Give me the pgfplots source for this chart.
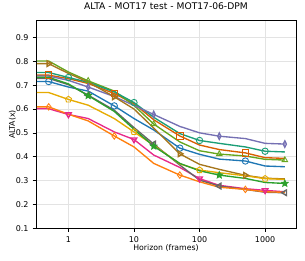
\documentclass[border=0pt]{standalone}
\usepackage{fontspec}
\setmainfont{DejaVu Sans}
\usepackage{pgfplots}
\pgfplotsset{compat=1.18}
\usetikzlibrary{plotmarks}
\definecolor{cA}{HTML}{1F77B4}
\definecolor{cB}{HTML}{D95F02}
\definecolor{cC}{HTML}{66A61E}
\definecolor{cD}{HTML}{1B9E77}
\definecolor{cE}{HTML}{7570B3}
\definecolor{cF}{HTML}{A6761D}
\definecolor{cG}{HTML}{E7298A}
\definecolor{cH}{HTML}{666666}
\definecolor{cI}{HTML}{E6AB02}
\definecolor{cJ}{HTML}{FF7F0E}
\definecolor{cK}{HTML}{2CA02C}
\pgfdeclareplotmark{fstar}{%
  \pgfpathmoveto{\pgfpointpolar{90}{\pgfplotmarksize}}%
  \pgfpathlineto{\pgfpointpolar{126}{0.45\pgfplotmarksize}}%
  \pgfpathlineto{\pgfpointpolar{162}{\pgfplotmarksize}}%
  \pgfpathlineto{\pgfpointpolar{198}{0.45\pgfplotmarksize}}%
  \pgfpathlineto{\pgfpointpolar{234}{\pgfplotmarksize}}%
  \pgfpathlineto{\pgfpointpolar{270}{0.45\pgfplotmarksize}}%
  \pgfpathlineto{\pgfpointpolar{306}{\pgfplotmarksize}}%
  \pgfpathlineto{\pgfpointpolar{342}{0.45\pgfplotmarksize}}%
  \pgfpathlineto{\pgfpointpolar{18}{\pgfplotmarksize}}%
  \pgfpathlineto{\pgfpointpolar{54}{0.45\pgfplotmarksize}}%
  \pgfpathclose\pgfusepathqfillstroke}
\begin{document}
\begin{tikzpicture}
\useasboundingbox (-36bp,-32.7bp) rectangle (269bp,228.3bp);
\begin{axis}[
  at={(0,0)}, anchor=south west,
  scale only axis, width=260bp, height=207.6bp,
  xmode=log, log basis x=10,
  xmin=0.32, xmax=2960, ymin=0.1, ymax=0.97,
  xtick={1,10,100,1000}, xticklabels={1,10,100,1000},
  ytick={0.1,0.2,0.3,0.4,0.5,0.6,0.7,0.8,0.9},
  yticklabels={0.1,0.2,0.3,0.4,0.5,0.6,0.7,0.8,0.9},
  tick align=outside, xtick pos=bottom, ytick pos=left,
  major tick length=3.5bp, minor tick length=2bp,
  tick style={black, line width=0.6bp},
  grid=major, major grid style={color=black!11, line width=0.8bp},
  axis line style={black, line width=0.8bp},
  tick label style={font=\fontsize{8}{9}\selectfont},
  xticklabel style={yshift=-1bp},
  yticklabel style={xshift=-0.5bp},
  title={ALTA - MOT17 test - MOT17-06-DPM},
  title style={font=\fontsize{9.2}{11}\selectfont, at={(0.5,1)}, anchor=base, yshift=5.4bp},
  xlabel={Horizon (frames)},
  xlabel style={font=\fontsize{7.8}{9}\selectfont, at={(0.5,0)}, anchor=base, yshift=-22.5bp},
  ylabel={ALTA(x)},
  ylabel style={font=\fontsize{7.8}{9}\selectfont, at={(0,0.5)}, anchor=base, rotate=0, xshift=0bp, yshift=21bp},
  every axis plot/.append style={line width=1.35bp, mark size=3.2bp, mark options={solid, line width=0.9bp}},
]
% blue circle
\addplot[cA, mark=o, mark indices={2,5,8,11}] coordinates {
(0.33,0.715)(0.5,0.715)(1,0.692)(2,0.675)(5,0.613)(10,0.56)(20,0.512)(50,0.436)(100,0.41)(200,0.39)(500,0.382)(1000,0.361)(2000,0.358)};
% orange square
\addplot[cB, mark=square, mark indices={2,5,8,11}] coordinates {
(0.33,0.742)(0.5,0.742)(1,0.727)(2,0.707)(5,0.665)(10,0.622)(20,0.555)(50,0.487)(100,0.449)(200,0.43)(500,0.416)(1000,0.396)(2000,0.393)};
% green triangle
\addplot[cC, mark=triangle, mark indices={4,7,10,13}] coordinates {
(0.33,0.801)(0.5,0.801)(1,0.755)(2,0.718)(5,0.675)(10,0.615)(20,0.537)(50,0.462)(100,0.425)(200,0.411)(500,0.403)(1000,0.389)(2000,0.386)};
% teal circle
\addplot[cD, mark=o, mark indices={3,6,9,12}] coordinates {
(0.33,0.753)(0.5,0.753)(1,0.732)(2,0.712)(5,0.672)(10,0.627)(20,0.565)(50,0.497)(100,0.468)(200,0.456)(500,0.441)(1000,0.423)(2000,0.42)};
% purple thin diamond
\addplot[cE, mark=diamond, mark options={xscale=0.65}, mark indices={4,7,10,13}] coordinates {
(0.33,0.738)(0.5,0.738)(1,0.72)(2,0.692)(5,0.652)(10,0.615)(20,0.577)(50,0.527)(100,0.50)(200,0.486)(500,0.476)(1000,0.456)(2000,0.453)};
% brown triangle right
\addplot[cF, mark=triangle, mark options={rotate=-90}, mark indices={2,5,8,11}] coordinates {
(0.33,0.790)(0.5,0.790)(1,0.749)(2,0.713)(5,0.651)(10,0.60)(20,0.52)(50,0.412)(100,0.368)(200,0.347)(500,0.322)(1000,0.31)(2000,0.307)};
% pink triangle down
\addplot[cG, mark=triangle, mark options={rotate=180}, mark indices={3,6,9,12}] coordinates {
(0.33,0.601)(0.5,0.601)(1,0.577)(2,0.56)(5,0.504)(10,0.472)(20,0.407)(50,0.355)(100,0.308)(200,0.28)(500,0.266)(1000,0.259)(2000,0.253)};
% gray triangle left
\addplot[cH, mark=triangle, mark options={rotate=90}, mark indices={4,7,10,13}] coordinates {
(0.33,0.728)(0.5,0.728)(1,0.702)(2,0.658)(5,0.595)(10,0.522)(20,0.453)(50,0.365)(100,0.302)(200,0.277)(500,0.263)(1000,0.251)(2000,0.249)};
% yellow pentagon
\addplot[cI, mark=pentagon, mark indices={3,6,9,12}] coordinates {
(0.33,0.669)(0.5,0.669)(1,0.640)(2,0.616)(5,0.56)(10,0.504)(20,0.448)(50,0.37)(100,0.344)(200,0.333)(500,0.32)(1000,0.308)(2000,0.305)};
% orange diamond
\addplot[cJ, mark=diamond, mark indices={2,5,8,11}] coordinates {
(0.33,0.609)(0.5,0.609)(1,0.578)(2,0.55)(5,0.487)(10,0.441)(20,0.372)(50,0.323)(100,0.295)(200,0.272)(500,0.263)(1000,0.253)(2000,0.251)};
% green star
\addplot[cK, mark=fstar, mark size=3.4bp, mark indices={4,7,10,13}] coordinates {
(0.33,0.733)(0.5,0.733)(1,0.705)(2,0.656)(5,0.59)(10,0.515)(20,0.444)(50,0.372)(100,0.341)(200,0.323)(500,0.309)(1000,0.292)(2000,0.288)};
\end{axis}
\end{tikzpicture}
\end{document}
